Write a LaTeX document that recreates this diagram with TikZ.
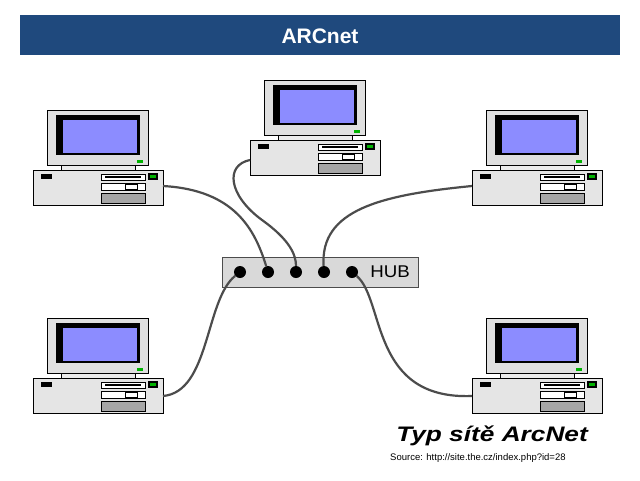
\documentclass[tikz,border=0pt]{standalone}
\usepackage{fontspec}
\setmainfont{Liberation Sans}
\begin{document}
\begin{tikzpicture}[x=1pt,y=-1pt,
  cable/.style={line width=2.2pt,draw=black!70},
  port/.style={circle,fill=black,minimum size=12pt,inner sep=0pt},
  pics/pc/.style={code={
    \draw[fill=black!12,line width=0.8pt] (14,-60) rectangle (115,-5);
    \fill[black] (23,-55) rectangle (107,-15);
    \fill[blue!45!white] (30,-50) rectangle (104,-17);
    \fill[green!70!black] (104,-10) rectangle (110,-7);
    \draw[fill=black!8] (28,-5) rectangle (102,0);
    \draw[fill=black!10,line width=0.8pt] (0,0) rectangle (130,35);
    \fill[black] (8,4) rectangle (19,9);
    \draw[fill=white] (68,4) rectangle (112,10);
    \fill[black] (72,6) rectangle (108,8);
    \draw[fill=white] (68,13) rectangle (112,20);
    \draw (92,14) rectangle (104,19);
    \draw[fill=black!35] (68,23) rectangle (112,33);
    \fill[black] (115,3) rectangle (125,10);
    \fill[green!70!black] (117,5) rectangle (123,8);
  }}]
\useasboundingbox (0,0) rectangle (640,480);
\fill[white] (0,0) rectangle (640,480);
\node[fill={rgb,255:red,31;green,73;blue,125},minimum width=600pt,minimum height=40pt,anchor=north west,inner sep=0pt] (title) at (20,15) {};
\node[text=white,font=\bfseries\fontsize{21}{24}\selectfont] (tt) at (320,36) {ARCnet};

\pic (pc1) at (33,170) {pc};
\pic (pc2) at (250,140) {pc};
\pic (pc3) at (472,170) {pc};
\pic (pc4) at (33,378) {pc};
\pic (pc5) at (472,378) {pc};

\coordinate (c1) at (163,186);
\coordinate (c2) at (250,160);
\coordinate (c3) at (472,186);
\coordinate (c4) at (163,396);
\coordinate (c5) at (472,396);

\node[draw=black!70,fill=black!15,line width=1.2pt,minimum width=196pt,minimum height=30pt,anchor=north west,inner sep=0pt] (hub) at (222,257) {};
\node[port] (p1) at (240,272) {};
\node[port] (p2) at (268,272) {};
\node[port] (p3) at (296,272) {};
\node[port] (p4) at (324,272) {};
\node[port] (p5) at (352,272) {};
\node[font=\fontsize{17}{18}\selectfont,xscale=1.1] (hl) at (390,272) {HUB};

\draw[cable] (c1) .. controls (235,190) and (255,230) .. (p2);
\draw[cable] (c2) .. controls (225,165) and (228,195) .. (262,220) .. controls (290,240) and (296,255) .. (p3);
\draw[cable] (c3) .. controls (380,195) and (320,210) .. (p4);
\draw[cable] (c4) .. controls (210,392) and (205,300) .. (p1);
\draw[cable] (c5) .. controls (370,400) and (385,300) .. (p5);

\node[anchor=west,font=\bfseries\itshape\fontsize{21}{24}\selectfont,xscale=1.25,inner sep=0pt] (typ) at (396,436) {Typ sítě ArcNet};
\node[anchor=west,font=\fontsize{9.5}{11}\selectfont,inner sep=0pt] (src) at (390,458) {Source: http://site.the.cz/index.php?id=28};
\end{tikzpicture}
\end{document}
